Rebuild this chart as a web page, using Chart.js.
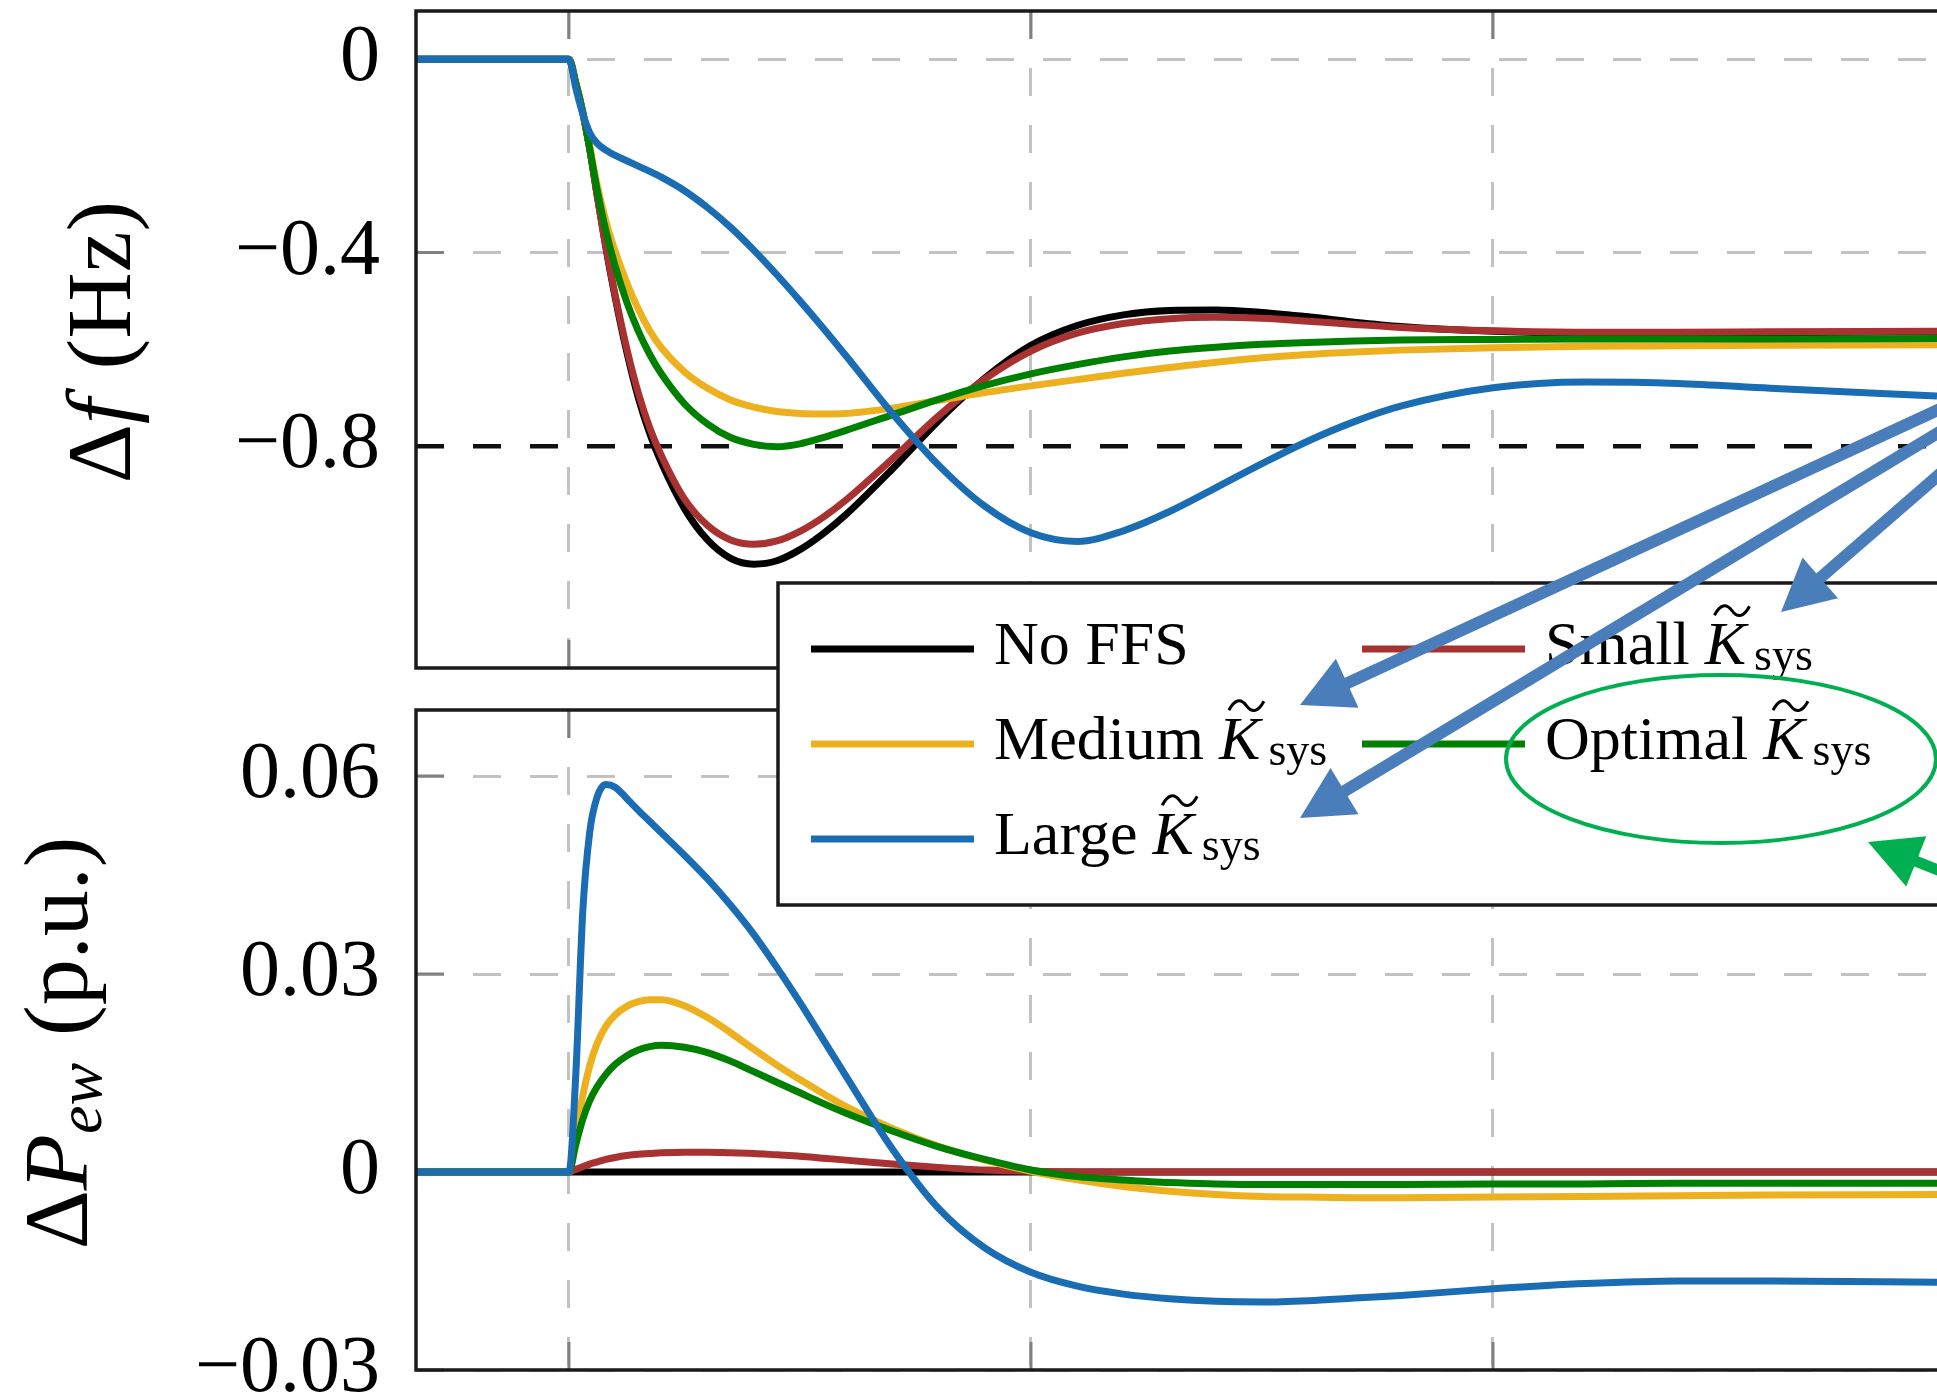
<!DOCTYPE html>
<html>
<head>
<meta charset="utf-8">
<script src="https://cdn.jsdelivr.net/npm/chart.js@4.4.0/dist/chart.umd.min.js"></script>
<style>
  html, body { margin: 0; padding: 0; background: #fff; overflow: hidden; }
  #wrap { position: relative; width: 1937px; height: 1396px; }
  #wrap canvas { position: absolute; left: 0; top: 0; }
</style>
</head>
<body>
<div id="wrap">
  <canvas id="freqChart" width="1937" height="1396"></canvas>
  <canvas id="powerChart" width="1937" height="1396"></canvas>
</div>
<script>
// ---- data ------------------------------------------------------------
const timeMin = -3.31;
const timeMax = 29.61;
const timeTicks = [0, 10, 20];
const freqTicks = [0, -0.4, -0.8];
const powerTicks = [0.06, 0.03, 0, -0.03];
const freqLimit = -0.8;

const time = [-3.31, 0, 0.15, 0.3, 0.45, 0.6, 0.8, 1, 1.25, 1.5, 1.75, 2, 2.5, 3, 3.5, 4, 4.5, 5, 5.5,
  6, 7, 8, 9, 10, 11, 12, 13, 14, 15, 16, 17, 18, 20, 22, 24, 26, 29.61];

// frequency deviation (Hz)
const freqNoFfs = [0, 0, -0.05, -0.11, -0.185, -0.275, -0.39, -0.492, -0.605, -0.7, -0.775, -0.835, -0.93,
  -0.995, -1.033, -1.045, -1.038, -1.015, -0.982, -0.942, -0.848, -0.748, -0.66, -0.592, -0.551, -0.529,
  -0.52, -0.519, -0.524, -0.533, -0.544, -0.553, -0.563, -0.567, -0.567, -0.566, -0.564];
const freqSmall = [0, 0, -0.05, -0.11, -0.185, -0.275, -0.388, -0.488, -0.598, -0.69, -0.763, -0.82, -0.91,
  -0.965, -0.995, -1.004, -0.997, -0.977, -0.948, -0.912, -0.827, -0.738, -0.662, -0.604, -0.567, -0.547,
  -0.537, -0.534, -0.536, -0.542, -0.549, -0.555, -0.562, -0.565, -0.565, -0.564, -0.563];
const freqMedium = [0, 0, -0.05, -0.11, -0.18, -0.255, -0.335, -0.397, -0.462, -0.517, -0.562, -0.597, -0.647,
  -0.681, -0.705, -0.72, -0.729, -0.733, -0.734, -0.733, -0.722, -0.706, -0.69, -0.676, -0.663, -0.65,
  -0.638, -0.627, -0.618, -0.611, -0.606, -0.602, -0.597, -0.594, -0.593, -0.592, -0.591];
const freqOptimal = [0, 0, -0.05, -0.11, -0.185, -0.265, -0.355, -0.428, -0.502, -0.562, -0.611, -0.651, -0.713,
  -0.755, -0.783, -0.797, -0.802, -0.796, -0.783, -0.768, -0.736, -0.704, -0.675, -0.651, -0.632, -0.616,
  -0.604, -0.596, -0.59, -0.586, -0.583, -0.581, -0.58, -0.579, -0.579, -0.579, -0.578];
const freqLarge = [0, 0, -0.06, -0.113, -0.152, -0.173, -0.188, -0.199, -0.21, -0.221, -0.232, -0.244, -0.272,
  -0.307, -0.348, -0.395, -0.446, -0.5, -0.556, -0.614, -0.733, -0.84, -0.925, -0.98, -0.998, -0.976,
  -0.936, -0.887, -0.837, -0.79, -0.75, -0.718, -0.68, -0.668, -0.671, -0.681, -0.697];

// extra wind power (p.u.)
const powNoFfs = [0, 0, 0, 0, 0, 0, 0, 0, 0, 0, 0, 0, 0, 0, 0, 0, 0, 0, 0, 0, 0, 0, 0, 0, 0, 0,
  0, 0, 0, 0, 0, 0, 0, 0, 0, 0, 0];
const powSmall = [0, 0, 0.0004, 0.0008, 0.0012, 0.0015, 0.0019, 0.0022, 0.0025, 0.0027, 0.0028, 0.0029, 0.003,
  0.003, 0.0029, 0.0028, 0.0026, 0.0024, 0.0021, 0.0018, 0.0012, 0.0007, 0.0003, 0.0001, 0, 0,
  0, 0, 0, 0, 0, 0, 0, 0, 0, 0, 0];
const powMedium = [0, 0, 0.006, 0.0116, 0.0161, 0.0193, 0.0221, 0.0238, 0.0251, 0.0258, 0.0261, 0.0261, 0.0252,
  0.0234, 0.0211, 0.0186, 0.0162, 0.014, 0.0119, 0.0099, 0.0066, 0.0039, 0.0018, 0.0001, -0.0012, -0.0022,
  -0.0029, -0.0034, -0.0037, -0.0038, -0.0039, -0.0039, -0.0038, -0.0037, -0.0036, -0.0035, -0.0034];
const powOptimal = [0, 0, 0.0042, 0.008, 0.0108, 0.0128, 0.0148, 0.0163, 0.0176, 0.0185, 0.019, 0.0192, 0.0189,
  0.0181, 0.0168, 0.0152, 0.0136, 0.012, 0.0104, 0.0089, 0.0062, 0.0038, 0.0019, 0.0003, -0.0007, -0.0012,
  -0.0016, -0.0018, -0.0019, -0.0019, -0.0019, -0.0019, -0.0018, -0.0018, -0.0017, -0.0017, -0.0017];
const powLarge = [0, 0, 0.015, 0.0395, 0.0515, 0.0566, 0.0587, 0.0583, 0.0566, 0.0548, 0.0531, 0.0514, 0.048,
  0.0444, 0.0404, 0.036, 0.031, 0.0257, 0.0201, 0.0145, 0.0035, -0.0055, -0.0115, -0.0152, -0.0173, -0.0185,
  -0.0192, -0.0196, -0.0197, -0.0195, -0.0191, -0.0187, -0.0177, -0.0169, -0.0165, -0.0165, -0.0167];

const legendLabels = ['No FFS', 'Small', 'Medium', 'Optimal', 'Large'];

// ---- styling --------------------------------------------------------------
const FONT = '"Liberation Serif", "Times New Roman", serif';
const colBlack = '#000000';
const colRed = '#a83232';
const colYellow = '#edb120';
const colGreen = '#008000';
const colBlue = '#1a6db3';
const gridGrey = '#c2c2c2';
const arrowBlue = '#4a7ebb';
const markGreen = '#00b050';

Chart.defaults.font.family = FONT;
Chart.defaults.color = '#000';

function formatTick(v) {
  if (v === 0) return '0';
  return (v < 0 ? '\u2212' : '') + Math.abs(v);
}

// one line dataset from a value array on the shared time base
function curve(values, color, order) {
  return {
    data: time.map((t, i) => ({ x: t, y: values[i] })),
    borderColor: color,
    backgroundColor: color,
    borderWidth: 7,
    pointRadius: 0,
    fill: false,
    cubicInterpolationMode: 'monotone',
    order: order
  };
}

// keep the plot box exactly where the figure has it
function noPadding(axis) {
  axis.paddingTop = 0;
  axis.paddingBottom = 0;
  axis.paddingLeft = 0;
  axis.paddingRight = 0;
}

function xScale(height) {
  return {
    type: 'linear',
    min: timeMin,
    max: timeMax,
    afterBuildTicks: axis => { axis.ticks = timeTicks.map(v => ({ value: v })); },
    afterFit: axis => { axis.height = height; noPadding(axis); },
    ticks: { display: false },
    grid: { color: gridGrey, lineWidth: 3, drawTicks: false },
    border: { display: false, dash: [28, 29] }
  };
}

function yScale(min, max, ticks) {
  return {
    min: min,
    max: max,
    afterBuildTicks: axis => { axis.ticks = ticks.map(v => ({ value: v })); },
    afterFit: axis => { axis.width = 416; noPadding(axis); },
    ticks: { font: { family: FONT, size: 80 }, color: '#000', padding: 36, callback: formatTick },
    grid: {
      color: c => (c.tick && c.tick.value === freqLimit ? '#111' : gridGrey),
      lineWidth: c => (c.tick && c.tick.value === freqLimit ? 4.5 : 3),
      drawTicks: false
    },
    border: { display: false, dash: [28, 29] }
  };
}

function line(ctx, x1, y1, x2, y2) {
  ctx.beginPath();
  ctx.moveTo(x1, y1);
  ctx.lineTo(x2, y2);
  ctx.stroke();
}

// draws runs of text ({t, s, i, dy}) left to right, returns the end x
function drawRuns(ctx, runs, x, y, measureOnly) {
  let cx = x;
  runs.forEach(r => {
    ctx.font = (r.i ? 'italic ' : '') + r.s + 'px ' + FONT;
    if (!measureOnly) ctx.fillText(r.t, cx, y + (r.dy || 0));
    cx += ctx.measureText(r.t).width + (r.gap || 0);
  });
  return cx;
}

function drawTilde(ctx, cx, cy, w, h) {
  ctx.beginPath();
  ctx.moveTo(cx - w / 2, cy + h / 2);
  ctx.quadraticCurveTo(cx - w / 4, cy - h * 1.3, cx, cy);
  ctx.quadraticCurveTo(cx + w / 4, cy + h * 1.3, cx + w / 2, cy - h / 2);
  ctx.stroke();
}

// italic K with a wide tilde and a roman "sys" subscript
function drawKsys(ctx, x, baseline, size) {
  ctx.font = 'italic ' + size + 'px ' + FONT;
  ctx.fillText('K', x, baseline);
  const kw = ctx.measureText('K').width;
  ctx.lineWidth = 3;
  ctx.strokeStyle = '#000';
  drawTilde(ctx, x + kw * 0.66, baseline - size * 0.86, 35, 9);
  ctx.font = Math.round(size * 0.74) + 'px ' + FONT;
  ctx.fillText('sys', x + kw + 8, baseline + 6);
}

// frame (top, left, bottom) and darker tick marks, like the pgfplots axis
const framePlugin = {
  id: 'frame',
  beforeDatasetsDraw(chart) {
    const { ctx, chartArea: a, scales } = chart;
    ctx.save();
    ctx.strokeStyle = '#808080';
    ctx.lineWidth = 3;
    scales.y.ticks.forEach(t => {
      if (t.value === freqLimit) return;
      const y = scales.y.getPixelForValue(t.value);
      line(ctx, a.left, y, a.left + 28, y);
    });
    scales.x.ticks.forEach(t => {
      const x = scales.x.getPixelForValue(t.value);
      line(ctx, x, a.top, x, a.top + 28);
      line(ctx, x, a.bottom - 28, x, a.bottom);
    });
    ctx.restore();
  },
  afterDatasetsDraw(chart) {
    const { ctx, chartArea: a } = chart;
    ctx.save();
    ctx.strokeStyle = '#1a1a1a';
    ctx.lineWidth = 3.5;
    ctx.beginPath();
    ctx.moveTo(chart.width + 5, a.top);
    ctx.lineTo(a.left, a.top);
    ctx.lineTo(a.left, a.bottom);
    ctx.lineTo(chart.width + 5, a.bottom);
    ctx.stroke();
    ctx.restore();
  }
};

// rotated y axis title with math pieces
const yTitlePlugin = {
  id: 'yTitle',
  afterDraw(chart, args, opts) {
    const ctx = chart.ctx;
    ctx.save();
    ctx.translate(opts.x, opts.y);
    ctx.rotate(-Math.PI / 2);
    ctx.fillStyle = '#000';
    ctx.textBaseline = 'alphabetic';
    const w = drawRuns(ctx, opts.runs, 0, 0, true);
    drawRuns(ctx, opts.runs, -w / 2, 0, false);
    ctx.restore();
  }
};

// legend box, ellipse and arrows drawn over both panels
const legendBox = { left: 778, top: 583, bottom: 905 };
const legendRowY = [649, 744, 839];
const legendCols = [{ lineX: 811, textX: 994 }, { lineX: 1362, textX: 1545 }];
const legendSlots = [[0, 0], [1, 0], [0, 1], [1, 1], [0, 2]];
const legendColors = [colBlack, colRed, colYellow, colGreen, colBlue];
const arrowOrigin = { x: 2100, y: 335 };
const blueArrowTips = [{ x: 1300, y: 705 }, { x: 1300, y: 818 }, { x: 1781, y: 612 }];
const greenArrow = { from: { x: 2060, y: 919 }, tip: { x: 1868, y: 842 } };
const optimalRing = { cx: 1721, cy: 759, rx: 215, ry: 84 };

function drawArrow(ctx, from, tip, color, width) {
  const dx = tip.x - from.x, dy = tip.y - from.y;
  const len = Math.hypot(dx, dy), ux = dx / len, uy = dy / len;
  const headLen = 52, headHalf = 27;
  const bx = tip.x - ux * headLen, by = tip.y - uy * headLen;
  ctx.strokeStyle = color;
  ctx.fillStyle = color;
  ctx.lineWidth = width;
  line(ctx, from.x, from.y, bx + ux * 4, by + uy * 4);
  ctx.beginPath();
  ctx.moveTo(tip.x, tip.y);
  ctx.lineTo(bx - uy * headHalf, by + ux * headHalf);
  ctx.lineTo(bx + uy * headHalf, by - ux * headHalf);
  ctx.closePath();
  ctx.fill();
}

const overlayPlugin = {
  id: 'overlay',
  afterDraw(chart) {
    const ctx = chart.ctx;
    ctx.save();
    // box
    ctx.fillStyle = '#fff';
    ctx.fillRect(legendBox.left, legendBox.top, chart.width, legendBox.bottom - legendBox.top);
    ctx.strokeStyle = '#1a1a1a';
    ctx.lineWidth = 3.5;
    ctx.strokeRect(legendBox.left, legendBox.top, chart.width, legendBox.bottom - legendBox.top);
    // entries
    ctx.textBaseline = 'alphabetic';
    legendLabels.forEach((label, i) => {
      const col = legendCols[legendSlots[i][0]];
      const y = legendRowY[legendSlots[i][1]];
      ctx.strokeStyle = legendColors[i];
      ctx.lineWidth = 7;
      line(ctx, col.lineX, y, col.lineX + 163, y);
      ctx.fillStyle = '#000';
      ctx.font = '62px ' + FONT;
      ctx.fillText(label, col.textX, y + 15);
      if (i > 0) {
        const kx = col.textX + ctx.measureText(label).width + 15;
        drawKsys(ctx, kx, y + 15, 62);
      }
    });
    // green ring round "Optimal"
    ctx.strokeStyle = markGreen;
    ctx.lineWidth = 4;
    ctx.beginPath();
    ctx.ellipse(optimalRing.cx, optimalRing.cy, optimalRing.rx, optimalRing.ry, 0, 0, Math.PI * 2);
    ctx.stroke();
    // arrows
    blueArrowTips.forEach(tip => drawArrow(ctx, arrowOrigin, tip, arrowBlue, 12));
    drawArrow(ctx, greenArrow.from, greenArrow.tip, markGreen, 11);
    ctx.restore();
  }
};

function baseOptions(padTop, xHeight, yMin, yMax, yTicks, title) {
  return {
    responsive: false,
    animation: false,
    events: [],
    layout: { padding: { top: padTop, left: 0, right: 0, bottom: 0 }, autoPadding: false },
    scales: {
      x: xScale(xHeight),
      y: yScale(yMin, yMax, yTicks)
    },
    plugins: {
      legend: { display: false },
      tooltip: { enabled: false },
      yTitle: title
    }
  };
}

// 1. Frequency deviation panel
new Chart(document.getElementById('freqChart').getContext('2d'), {
  type: 'line',
  data: {
    datasets: [
      curve(freqNoFfs, colBlack, 5),
      curve(freqSmall, colRed, 4),
      curve(freqMedium, colYellow, 3),
      curve(freqOptimal, colGreen, 2),
      curve(freqLarge, colBlue, 1)
    ]
  },
  options: baseOptions(11, 728, -1.26, 0.1, freqTicks, {
    x: 130, y: 342,
    runs: [{ t: '\u0394', s: 92 }, { t: 'f', s: 92, i: true, gap: 6 }, { t: ' (Hz)', s: 92 }]
  }),
  plugins: [framePlugin, yTitlePlugin]
});

// 2. Extra wind power panel, with the legend and notes on top
new Chart(document.getElementById('powerChart').getContext('2d'), {
  type: 'line',
  data: {
    datasets: [
      curve(powNoFfs, colBlack, 5),
      curve(powSmall, colRed, 4),
      curve(powMedium, colYellow, 3),
      curve(powOptimal, colGreen, 2),
      curve(powLarge, colBlue, 1)
    ]
  },
  options: baseOptions(710, 26, -0.03, 0.07, powerTicks, {
    x: 87, y: 1043,
    runs: [{ t: '\u0394', s: 92 }, { t: 'P', s: 92, i: true }, { t: 'ew', s: 64, i: true, dy: 14, gap: 4 },
      { t: ' (p.u.)', s: 92 }]
  }),
  plugins: [framePlugin, yTitlePlugin, overlayPlugin]
});
</script>
</body>
</html>
